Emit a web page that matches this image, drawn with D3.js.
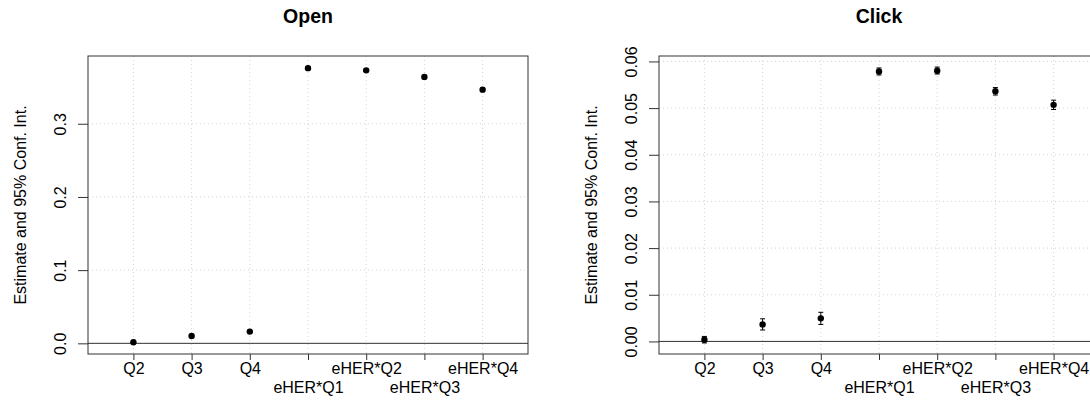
<!DOCTYPE html>
<html>
<head>
<meta charset="utf-8">
<script src="https://cdn.jsdelivr.net/npm/d3@7"></script>
<style>
  body { margin: 0; background: #fff; }
  svg { font-family: "Liberation Sans", Arial, Helvetica, sans-serif; }
</style>
</head>
<body>
<script>
var categories = ["Q2", "Q3", "Q4", "eHER*Q1", "eHER*Q2", "eHER*Q3", "eHER*Q4"]

var openEst = [0.0014, 0.0100, 0.0160, 0.3760, 0.3730, 0.3640, 0.3466]
var openLo  = [0.0005, 0.0092, 0.0151, 0.3745, 0.3715, 0.3625, 0.3450]
var openHi  = [0.0023, 0.0108, 0.0169, 0.3775, 0.3745, 0.3655, 0.3482]
var openTicks = [0, 0.1, 0.2, 0.3]

var clickEst = [0.00037, 0.00365, 0.00494, 0.05785, 0.0580, 0.0536, 0.0507]
var clickLo  = [-0.00033, 0.00245, 0.00364, 0.0571, 0.0573, 0.0528, 0.0497]
var clickHi  = [0.00107, 0.00485, 0.00624, 0.0586, 0.0588, 0.0544, 0.0517]
var clickTicks = [0, 0.01, 0.02, 0.03, 0.04, 0.05, 0.06]

var yLabel = "Estimate and 95% Conf. Int."

var svg = d3.select("body")
  .append("svg")
  .attr("width", 1090)
  .attr("height", 403)

svg.append("rect")
  .attr("width", 1090)
  .attr("height", 403)
  .attr("fill", "#fff")

function drawPanel(left, title, est, lo, hi, ticks, fmt) {
  var top = 56, w = 440, h = 298

  // R style: xlim 0.5..7.5 and y range padded by 4%
  var x = d3.scaleLinear()
      .domain([0.22, 7.78])
      .range([0, w])
  var ymin = d3.min(lo), ymax = d3.max(hi)
  var pad = (ymax - ymin) * 0.04
  var y = d3.scaleLinear()
      .domain([ymin - pad, ymax + pad])
      .range([h, 0])

  var g = svg.append("g")
    .attr("transform", "translate(" + left + "," + top + ")")

  // grid
  g.append("g")
    .selectAll("line.vgrid")
    .data(categories)
    .enter().append("line")
    .attr("x1", function(d, i) { return x(i + 1) })
    .attr("x2", function(d, i) { return x(i + 1) })
    .attr("y1", 0)
    .attr("y2", h)
    .style("stroke", "#d3d3d3")
    .style("stroke-dasharray", "1,3")

  g.append("g")
    .selectAll("line.hgrid")
    .data(ticks)
    .enter().append("line")
    .attr("x1", 0)
    .attr("x2", w)
    .attr("y1", function(d) { return y(d) })
    .attr("y2", function(d) { return y(d) })
    .style("stroke", "#d3d3d3")
    .style("stroke-dasharray", "1,3")

  // zero line
  g.append("line")
    .attr("x1", 0)
    .attr("x2", w)
    .attr("y1", y(0))
    .attr("y2", y(0))
    .style("stroke", "#333")

  // error bars
  var bars = g.append("g")
    .selectAll("g.bar")
    .data(est)
    .enter().append("g")
    .style("stroke", "#000")
  bars.append("line")
    .attr("x1", function(d, i) { return x(i + 1) })
    .attr("x2", function(d, i) { return x(i + 1) })
    .attr("y1", function(d, i) { return y(lo[i]) })
    .attr("y2", function(d, i) { return y(hi[i]) })
  bars.append("line")
    .attr("x1", function(d, i) { return x(i + 1) - 2.5 })
    .attr("x2", function(d, i) { return x(i + 1) + 2.5 })
    .attr("y1", function(d, i) { return y(lo[i]) })
    .attr("y2", function(d, i) { return y(lo[i]) })
  bars.append("line")
    .attr("x1", function(d, i) { return x(i + 1) - 2.5 })
    .attr("x2", function(d, i) { return x(i + 1) + 2.5 })
    .attr("y1", function(d, i) { return y(hi[i]) })
    .attr("y2", function(d, i) { return y(hi[i]) })

  // points
  g.append("g")
    .selectAll("circle")
    .data(est)
    .enter().append("circle")
    .attr("cx", function(d, i) { return x(i + 1) })
    .attr("cy", function(d) { return y(d) })
    .attr("r", 3.2)
    .style("fill", "#000")

  // box
  g.append("rect")
    .attr("width", w)
    .attr("height", h)
    .style("fill", "none")
    .style("stroke", "#333")

  // y axis
  var ya = g.append("g")
    .call(d3.axisLeft(y).tickValues(ticks).tickSize(10).tickFormat(d3.format(fmt)))
  ya.select(".domain").remove()
  ya.selectAll("line").style("stroke", "#333")
  ya.selectAll("text")
    .attr("x", 0)
    .attr("y", -22.5)
    .attr("dy", 0)
    .attr("transform", "rotate(-90)")
    .attr("text-anchor", "middle")
    .style("font-size", "16px")
    .style("fill", "#000")

  // x axis, labels on two rows
  var xa = g.append("g")
    .attr("transform", "translate(0," + h + ")")
    .call(d3.axisBottom(x)
      .tickValues(d3.range(1, categories.length + 1))
      .tickSize(6)
      .tickFormat(function(d) { return categories[d - 1] }))
  xa.select(".domain").remove()
  xa.selectAll("line").style("stroke", "#333")
  xa.selectAll("text")
    .attr("y", function(d) { return (d === 4 || d === 6) ? 39 : 20 })
    .attr("dy", 0)
    .style("font-size", "16px")
    .style("fill", "#000")

  // y label
  g.append("text")
    .attr("transform", "translate(-61.6," + (h / 2) + ") rotate(-90)")
    .attr("text-anchor", "middle")
    .style("font-size", "16px")
    .text(yLabel)

  // title
  g.append("text")
    .attr("x", w / 2)
    .attr("y", 23 - top)
    .attr("text-anchor", "middle")
    .style("font-size", "19.5px")
    .style("font-weight", "bold")
    .text(title)
}

drawPanel(88, "Open", openEst, openLo, openHi, openTicks, ".1f")
drawPanel(659, "Click", clickEst, clickLo, clickHi, clickTicks, ".2f")
</script>
</body>
</html>
